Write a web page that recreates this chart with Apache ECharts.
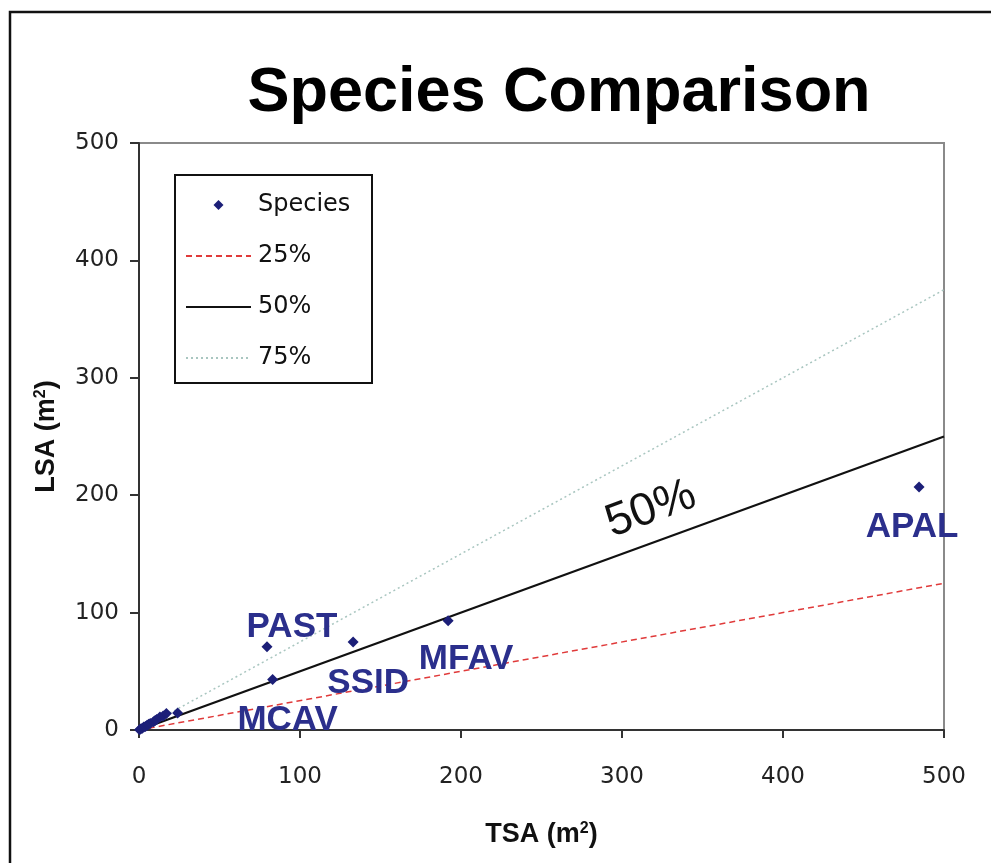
<!DOCTYPE html>
<html>
<head>
<meta charset="utf-8">
<script src="https://cdn.jsdelivr.net/npm/echarts@6/dist/echarts.min.js"></script>
<style>html,body{margin:0;padding:0;background:#fff}#c{width:991px;height:863px}</style>
</head>
<body>
<div id="c"></div>
<script>
// ---- data ----
const speciesNames = ['', '', '', '', '', '', '', '', '', '', '', '', '', '', '', 'PAST', 'MCAV', 'SSID', 'MFAV', 'APAL'];
const speciesX = [0.3, 1, 2, 3, 4, 5, 6, 7, 9, 10, 11, 13, 15, 17, 24, 79.5, 83, 133, 192, 484.5];
const speciesY = [0.2, 0.8, 1.5, 2.5, 3, 4, 5, 5.5, 7, 8, 9, 11, 12, 14, 14.5, 71, 43, 75, 93, 207];
const refLineX = [0, 500];
const line25 = [0, 125];
const line50 = [0, 250];
const line75 = [0, 375];
const axisTicks = [0, 100, 200, 300, 400, 500];
const legendNames = ['Species', '25%', '50%', '75%'];
const annotationText = '50%';

// ---- label placement (styling, not data) ----
const labelOffset = {PAST: [25, -19], MCAV: [15, 41], SSID: [15, 41], MFAV: [18, 39], APAL: [-7, 40]};

const navy = '#1c1f78';
const labelColor = '#2b2f8c';

const scatterData = speciesX.map((x, i) => {
  const n = speciesNames[i];
  const d = {value: [x, speciesY[i]], name: n};
  if (n) {
    d.label = {show: true, formatter: n, offset: labelOffset[n], position: 'inside'};
  }
  return d;
});

const mk = arr => refLineX.map((x, i) => [x, arr[i]]);

const chart = echarts.init(document.getElementById('c'), null, {renderer: 'canvas'});
chart.setOption({
  animation: false,
  backgroundColor: '#fff',
  title: {
    text: 'Species Comparison',
    left: 554, top: 57, textAlign: 'center',
    textStyle: {fontFamily: 'Liberation Sans', fontWeight: 'bold', fontSize: 63, color: '#000'}
  },
  graphic: [
    {type: 'rect', shape: {x: 10, y: 12, width: 1000, height: 900}, style: {fill: 'none', stroke: '#111', lineWidth: 2.5}, z: 100},
    {type: 'rect', shape: {x: 175, y: 175, width: 197, height: 208}, style: {fill: '#fff', stroke: '#111', lineWidth: 2}, z: 1}
  ],
  legend: {
    data: [
      {name: legendNames[0], icon: 'path://M5,0 L10,5 L5,10 L0,5 Z'},
      {name: legendNames[1], itemStyle: {opacity: 0}},
      {name: legendNames[2], itemStyle: {opacity: 0}},
      {name: legendNames[3], itemStyle: {opacity: 0}}
    ],
    orient: 'vertical',
    left: 185, top: 193,
    padding: 0,
    itemWidth: 65, itemHeight: 10,
    itemGap: 27,
    symbolKeepAspect: true,
    textStyle: {fontFamily: 'DejaVu Sans', fontSize: 24, lineHeight: 24, color: '#111', padding: [0, 0, 0, 2]},
    z: 5
  },
  grid: {left: 139, top: 143, right: 47, bottom: 133, show: true, borderColor: '#8a8a8a', borderWidth: 2, backgroundColor: 'transparent'},
  xAxis: {
    type: 'value', min: 0, max: 500, interval: 100,
    name: '{b|TSA (m}{s|2}{b|)}', nameLocation: 'middle', nameGap: 91,
    nameTextStyle: {rich: {
      b: {fontFamily: 'Liberation Sans', fontWeight: 'bold', fontSize: 27, color: '#111'},
      s: {fontFamily: 'Liberation Sans', fontWeight: 'bold', fontSize: 16, color: '#111', verticalAlign: 'top', padding: [0, 0, 12, 0]}
    }},
    axisLine: {show: true, lineStyle: {color: '#333', width: 2}},
    axisTick: {show: true, length: 8, inside: false, lineStyle: {color: '#333', width: 2}},
    axisLabel: {fontFamily: 'DejaVu Sans', fontSize: 23, color: '#222', margin: 36, formatter: v => axisTicks.includes(v) ? String(v) : ''},
    splitLine: {show: false}
  },
  yAxis: {
    type: 'value', min: 0, max: 500, interval: 100,
    name: '{b|LSA (m}{s|2}{b|)}', nameLocation: 'middle', nameGap: 78, nameRotate: 90,
    nameTextStyle: {rich: {
      b: {fontFamily: 'Liberation Sans', fontWeight: 'bold', fontSize: 27, color: '#111'},
      s: {fontFamily: 'Liberation Sans', fontWeight: 'bold', fontSize: 16, color: '#111', verticalAlign: 'top', padding: [0, 0, 12, 0]}
    }},
    axisLine: {show: true, lineStyle: {color: '#333', width: 2}},
    axisTick: {show: true, length: 9, lineStyle: {color: '#333', width: 2}},
    axisLabel: {fontFamily: 'DejaVu Sans', fontSize: 23, color: '#222', margin: 20, formatter: v => axisTicks.includes(v) ? String(v) : ''},
    splitLine: {show: false}
  },
  series: [
    {
      name: 'Species', type: 'scatter', symbol: 'diamond', symbolSize: 11,
      itemStyle: {color: navy, opacity: 1},
      data: scatterData,
      label: {show: false, fontFamily: 'Liberation Sans', fontWeight: 'bold', fontSize: 35, color: labelColor, opacity: 1},
      emphasis: {disabled: true},
      z: 4
    },
    {
      name: '25%', type: 'line', symbol: 'none', data: mk(line25),
      lineStyle: {color: '#e03a3a', width: 1.5, type: [6, 4]}, itemStyle: {color: '#e03a3a'}, z: 3
    },
    {
      name: '50%', type: 'line', symbol: 'none', data: mk(line50),
      lineStyle: {color: '#111', width: 2.2, type: 'solid'}, itemStyle: {color: '#111'}, z: 3,
      markPoint: {
        symbol: 'circle', symbolSize: 2,
        itemStyle: {color: 'rgba(0,0,0,0)'},
        data: [{coord: [318, 188], value: annotationText}],
        label: {show: true, position: 'inside', formatter: annotationText, rotate: 20, fontFamily: 'Liberation Sans', fontSize: 46, color: '#111'}
      }
    },
    {
      name: '75%', type: 'line', symbol: 'none', data: mk(line75),
      lineStyle: {color: '#a9c6c0', width: 1.5, type: [2, 3]}, itemStyle: {color: '#a9c6c0'}, z: 3
    }
  ]
});
</script>
</body>
</html>
